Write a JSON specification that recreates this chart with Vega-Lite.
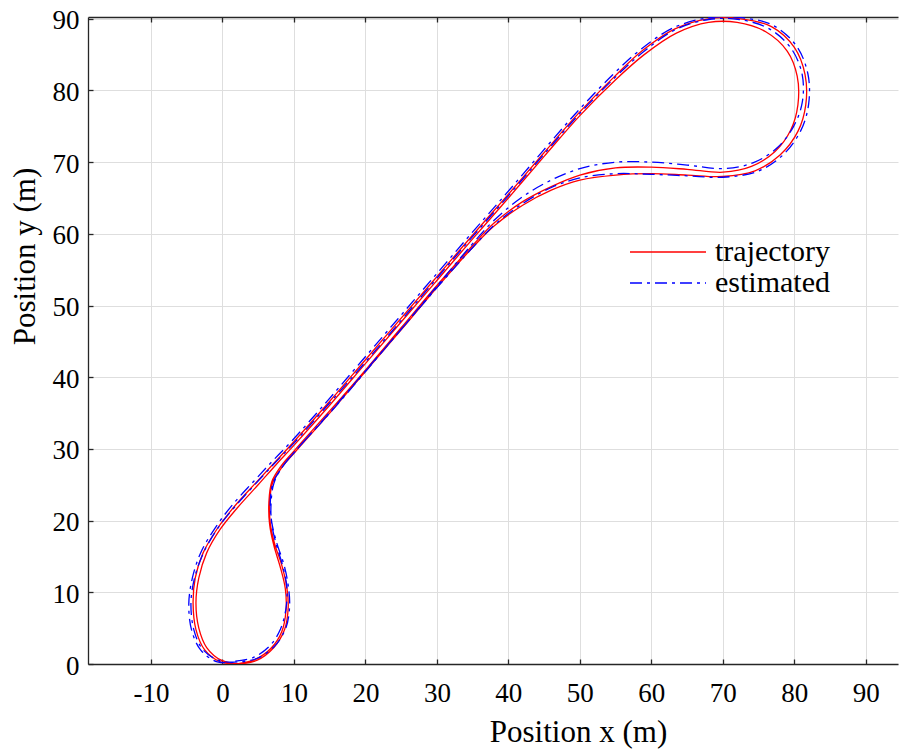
{
  "$schema": "https://vega.github.io/schema/vega-lite/v6.json",
  "width": 810,
  "height": 647,
  "autosize": "none",
  "padding": {"left": 88, "top": 17, "right": 1, "bottom": 85},
  "background": "white",
  "config": {
    "view": {"stroke": null},
    "font": "Liberation Serif"
  },
  "datasets": {
    "track": [
      {"series": "trajectory", "i": 0, "x": 2.0, "y": 0.0},
      {"series": "trajectory", "i": 1, "x": 4.5, "y": 0.6},
      {"series": "trajectory", "i": 2, "x": 6.8, "y": 2.2},
      {"series": "trajectory", "i": 3, "x": 8.3, "y": 4.5},
      {"series": "trajectory", "i": 4, "x": 8.9, "y": 7.5},
      {"series": "trajectory", "i": 5, "x": 8.8, "y": 10.5},
      {"series": "trajectory", "i": 6, "x": 8.1, "y": 13.5},
      {"series": "trajectory", "i": 7, "x": 7.2, "y": 16.5},
      {"series": "trajectory", "i": 8, "x": 6.6, "y": 19.5},
      {"series": "trajectory", "i": 9, "x": 6.5, "y": 22.5},
      {"series": "trajectory", "i": 10, "x": 6.9, "y": 25.4},
      {"series": "trajectory", "i": 11, "x": 8.2, "y": 27.6},
      {"series": "trajectory", "i": 12, "x": 10.0, "y": 29.7},
      {"series": "trajectory", "i": 13, "x": 15.0, "y": 35.3},
      {"series": "trajectory", "i": 14, "x": 20.0, "y": 41.0},
      {"series": "trajectory", "i": 15, "x": 25.0, "y": 46.9},
      {"series": "trajectory", "i": 16, "x": 30.0, "y": 52.8},
      {"series": "trajectory", "i": 17, "x": 35.0, "y": 58.4},
      {"series": "trajectory", "i": 18, "x": 38.0, "y": 61.5},
      {"series": "trajectory", "i": 19, "x": 42.0, "y": 64.5},
      {"series": "trajectory", "i": 20, "x": 46.0, "y": 66.6},
      {"series": "trajectory", "i": 21, "x": 50.0, "y": 68.2},
      {"series": "trajectory", "i": 22, "x": 55.0, "y": 69.2},
      {"series": "trajectory", "i": 23, "x": 60.0, "y": 69.3},
      {"series": "trajectory", "i": 24, "x": 65.0, "y": 69.0},
      {"series": "trajectory", "i": 25, "x": 70.0, "y": 68.6},
      {"series": "trajectory", "i": 26, "x": 74.0, "y": 69.4},
      {"series": "trajectory", "i": 27, "x": 77.3, "y": 71.5},
      {"series": "trajectory", "i": 28, "x": 79.5, "y": 74.5},
      {"series": "trajectory", "i": 29, "x": 80.5, "y": 78.0},
      {"series": "trajectory", "i": 30, "x": 80.4, "y": 82.0},
      {"series": "trajectory", "i": 31, "x": 79.0, "y": 85.5},
      {"series": "trajectory", "i": 32, "x": 76.0, "y": 88.2},
      {"series": "trajectory", "i": 33, "x": 72.0, "y": 89.5},
      {"series": "trajectory", "i": 34, "x": 68.0, "y": 89.5},
      {"series": "trajectory", "i": 35, "x": 63.5, "y": 88.0},
      {"series": "trajectory", "i": 36, "x": 59.0, "y": 85.0},
      {"series": "trajectory", "i": 37, "x": 55.0, "y": 81.5},
      {"series": "trajectory", "i": 38, "x": 50.0, "y": 76.5},
      {"series": "trajectory", "i": 39, "x": 45.0, "y": 70.8},
      {"series": "trajectory", "i": 40, "x": 40.0, "y": 65.0},
      {"series": "trajectory", "i": 41, "x": 35.0, "y": 59.3},
      {"series": "trajectory", "i": 42, "x": 30.0, "y": 53.5},
      {"series": "trajectory", "i": 43, "x": 25.0, "y": 47.7},
      {"series": "trajectory", "i": 44, "x": 20.0, "y": 41.9},
      {"series": "trajectory", "i": 45, "x": 15.0, "y": 36.1},
      {"series": "trajectory", "i": 46, "x": 10.0, "y": 30.5},
      {"series": "trajectory", "i": 47, "x": 7.5, "y": 27.8},
      {"series": "trajectory", "i": 48, "x": 5.0, "y": 25.0},
      {"series": "trajectory", "i": 49, "x": 2.1, "y": 21.8},
      {"series": "trajectory", "i": 50, "x": -0.3, "y": 18.8},
      {"series": "trajectory", "i": 51, "x": -2.2, "y": 15.5},
      {"series": "trajectory", "i": 52, "x": -3.3, "y": 12.0},
      {"series": "trajectory", "i": 53, "x": -3.7, "y": 8.5},
      {"series": "trajectory", "i": 54, "x": -3.3, "y": 5.0},
      {"series": "trajectory", "i": 55, "x": -2.2, "y": 2.3},
      {"series": "trajectory", "i": 56, "x": -0.1, "y": 0.5},
      {"series": "trajectory", "i": 57, "x": 2.3, "y": 0.05},
      {"series": "trajectory", "i": 58, "x": 4.8, "y": 0.5},
      {"series": "trajectory", "i": 59, "x": 7.2, "y": 2.3},
      {"series": "trajectory", "i": 60, "x": 8.7, "y": 4.8},
      {"series": "trajectory", "i": 61, "x": 9.2, "y": 7.8},
      {"series": "trajectory", "i": 62, "x": 9.0, "y": 10.8},
      {"series": "trajectory", "i": 63, "x": 8.3, "y": 13.8},
      {"series": "trajectory", "i": 64, "x": 7.3, "y": 16.8},
      {"series": "trajectory", "i": 65, "x": 6.7, "y": 19.6},
      {"series": "trajectory", "i": 66, "x": 6.6, "y": 22.4},
      {"series": "trajectory", "i": 67, "x": 7.0, "y": 25.2},
      {"series": "trajectory", "i": 68, "x": 8.3, "y": 27.4},
      {"series": "trajectory", "i": 69, "x": 10.2, "y": 29.6},
      {"series": "trajectory", "i": 70, "x": 15.1, "y": 35.1},
      {"series": "trajectory", "i": 71, "x": 20.0, "y": 40.8},
      {"series": "trajectory", "i": 72, "x": 25.0, "y": 46.6},
      {"series": "trajectory", "i": 73, "x": 30.0, "y": 52.5},
      {"series": "trajectory", "i": 74, "x": 35.0, "y": 58.1},
      {"series": "trajectory", "i": 75, "x": 38.0, "y": 61.1},
      {"series": "trajectory", "i": 76, "x": 42.0, "y": 64.0},
      {"series": "trajectory", "i": 77, "x": 46.0, "y": 66.1},
      {"series": "trajectory", "i": 78, "x": 50.0, "y": 67.5},
      {"series": "trajectory", "i": 79, "x": 55.0, "y": 68.2},
      {"series": "trajectory", "i": 80, "x": 60.0, "y": 68.4},
      {"series": "trajectory", "i": 81, "x": 65.0, "y": 68.2},
      {"series": "trajectory", "i": 82, "x": 70.0, "y": 68.0},
      {"series": "trajectory", "i": 83, "x": 74.5, "y": 68.8},
      {"series": "trajectory", "i": 84, "x": 78.0, "y": 71.0},
      {"series": "trajectory", "i": 85, "x": 80.5, "y": 74.3},
      {"series": "trajectory", "i": 86, "x": 81.6, "y": 78.0},
      {"series": "trajectory", "i": 87, "x": 81.5, "y": 82.2},
      {"series": "trajectory", "i": 88, "x": 80.0, "y": 86.0},
      {"series": "trajectory", "i": 89, "x": 76.8, "y": 88.9},
      {"series": "trajectory", "i": 90, "x": 72.5, "y": 90.0},
      {"series": "trajectory", "i": 91, "x": 68.0, "y": 90.0},
      {"series": "trajectory", "i": 92, "x": 63.3, "y": 88.6},
      {"series": "trajectory", "i": 93, "x": 58.8, "y": 85.6},
      {"series": "trajectory", "i": 94, "x": 54.8, "y": 81.9},
      {"series": "trajectory", "i": 95, "x": 49.8, "y": 76.8},
      {"series": "trajectory", "i": 96, "x": 44.8, "y": 71.1},
      {"series": "trajectory", "i": 97, "x": 39.8, "y": 65.3},
      {"series": "trajectory", "i": 98, "x": 34.8, "y": 59.6},
      {"series": "trajectory", "i": 99, "x": 29.8, "y": 53.8},
      {"series": "trajectory", "i": 100, "x": 24.8, "y": 48.0},
      {"series": "trajectory", "i": 101, "x": 19.8, "y": 42.2},
      {"series": "trajectory", "i": 102, "x": 14.8, "y": 36.4},
      {"series": "trajectory", "i": 103, "x": 9.8, "y": 30.8},
      {"series": "trajectory", "i": 104, "x": 7.3, "y": 28.1},
      {"series": "trajectory", "i": 105, "x": 4.7, "y": 25.3},
      {"series": "trajectory", "i": 106, "x": 1.7, "y": 22.0},
      {"series": "trajectory", "i": 107, "x": -0.7, "y": 18.9},
      {"series": "trajectory", "i": 108, "x": -2.7, "y": 15.5},
      {"series": "trajectory", "i": 109, "x": -3.8, "y": 12.0},
      {"series": "trajectory", "i": 110, "x": -4.1, "y": 8.4},
      {"series": "trajectory", "i": 111, "x": -3.7, "y": 4.8},
      {"series": "trajectory", "i": 112, "x": -2.5, "y": 2.0},
      {"series": "trajectory", "i": 113, "x": -0.3, "y": 0.3},
      {"series": "trajectory", "i": 114, "x": 2.3, "y": 0.05},

      {"series": "estimated", "i": 0, "x": 1.8, "y": 0.4},
      {"series": "estimated", "i": 1, "x": 4.3, "y": 0.9},
      {"series": "estimated", "i": 2, "x": 6.6, "y": 2.5},
      {"series": "estimated", "i": 3, "x": 8.1, "y": 4.8},
      {"series": "estimated", "i": 4, "x": 8.9, "y": 7.8},
      {"series": "estimated", "i": 5, "x": 9.0, "y": 10.8},
      {"series": "estimated", "i": 6, "x": 8.4, "y": 13.8},
      {"series": "estimated", "i": 7, "x": 7.5, "y": 16.8},
      {"series": "estimated", "i": 8, "x": 6.9, "y": 19.5},
      {"series": "estimated", "i": 9, "x": 6.8, "y": 22.3},
      {"series": "estimated", "i": 10, "x": 7.2, "y": 25.2},
      {"series": "estimated", "i": 11, "x": 8.4, "y": 27.5},
      {"series": "estimated", "i": 12, "x": 10.2, "y": 29.7},
      {"series": "estimated", "i": 13, "x": 15.2, "y": 35.2},
      {"series": "estimated", "i": 14, "x": 20.1, "y": 40.9},
      {"series": "estimated", "i": 15, "x": 25.1, "y": 46.8},
      {"series": "estimated", "i": 16, "x": 30.0, "y": 52.7},
      {"series": "estimated", "i": 17, "x": 34.8, "y": 58.4},
      {"series": "estimated", "i": 18, "x": 37.7, "y": 61.6},
      {"series": "estimated", "i": 19, "x": 41.6, "y": 64.9},
      {"series": "estimated", "i": 20, "x": 45.6, "y": 67.3},
      {"series": "estimated", "i": 21, "x": 50.0, "y": 69.1},
      {"series": "estimated", "i": 22, "x": 55.0, "y": 70.0},
      {"series": "estimated", "i": 23, "x": 60.0, "y": 70.0},
      {"series": "estimated", "i": 24, "x": 65.0, "y": 69.6},
      {"series": "estimated", "i": 25, "x": 70.0, "y": 69.1},
      {"series": "estimated", "i": 26, "x": 74.2, "y": 69.9},
      {"series": "estimated", "i": 27, "x": 77.6, "y": 72.0},
      {"series": "estimated", "i": 28, "x": 79.9, "y": 75.0},
      {"series": "estimated", "i": 29, "x": 81.1, "y": 78.3},
      {"series": "estimated", "i": 30, "x": 81.1, "y": 82.2},
      {"series": "estimated", "i": 31, "x": 79.6, "y": 85.8},
      {"series": "estimated", "i": 32, "x": 76.5, "y": 88.6},
      {"series": "estimated", "i": 33, "x": 72.3, "y": 89.9},
      {"series": "estimated", "i": 34, "x": 68.0, "y": 89.9},
      {"series": "estimated", "i": 35, "x": 63.4, "y": 88.5},
      {"series": "estimated", "i": 36, "x": 58.9, "y": 85.4},
      {"series": "estimated", "i": 37, "x": 54.9, "y": 81.8},
      {"series": "estimated", "i": 38, "x": 49.9, "y": 76.7},
      {"series": "estimated", "i": 39, "x": 44.9, "y": 71.0},
      {"series": "estimated", "i": 40, "x": 39.9, "y": 65.2},
      {"series": "estimated", "i": 41, "x": 34.9, "y": 59.5},
      {"series": "estimated", "i": 42, "x": 29.9, "y": 53.7},
      {"series": "estimated", "i": 43, "x": 24.9, "y": 47.8},
      {"series": "estimated", "i": 44, "x": 19.9, "y": 42.0},
      {"series": "estimated", "i": 45, "x": 14.9, "y": 36.3},
      {"series": "estimated", "i": 46, "x": 9.9, "y": 30.7},
      {"series": "estimated", "i": 47, "x": 7.3, "y": 28.0},
      {"series": "estimated", "i": 48, "x": 4.7, "y": 25.2},
      {"series": "estimated", "i": 49, "x": 1.8, "y": 22.0},
      {"series": "estimated", "i": 50, "x": -0.6, "y": 19.0},
      {"series": "estimated", "i": 51, "x": -2.6, "y": 15.6},
      {"series": "estimated", "i": 52, "x": -3.9, "y": 12.0},
      {"series": "estimated", "i": 53, "x": -4.4, "y": 8.5},
      {"series": "estimated", "i": 54, "x": -4.0, "y": 4.8},
      {"series": "estimated", "i": 55, "x": -2.8, "y": 2.1},
      {"series": "estimated", "i": 56, "x": -0.5, "y": 0.5},
      {"series": "estimated", "i": 57, "x": 2.2, "y": 0.3},
      {"series": "estimated", "i": 58, "x": 4.9, "y": 0.8},
      {"series": "estimated", "i": 59, "x": 7.4, "y": 2.6},
      {"series": "estimated", "i": 60, "x": 8.9, "y": 5.1},
      {"series": "estimated", "i": 61, "x": 9.4, "y": 8.1},
      {"series": "estimated", "i": 62, "x": 9.2, "y": 11.0},
      {"series": "estimated", "i": 63, "x": 8.6, "y": 13.9},
      {"series": "estimated", "i": 64, "x": 7.6, "y": 16.9},
      {"series": "estimated", "i": 65, "x": 6.9, "y": 19.8},
      {"series": "estimated", "i": 66, "x": 6.7, "y": 22.6},
      {"series": "estimated", "i": 67, "x": 7.1, "y": 25.3},
      {"series": "estimated", "i": 68, "x": 8.4, "y": 27.5},
      {"series": "estimated", "i": 69, "x": 10.3, "y": 29.8},
      {"series": "estimated", "i": 70, "x": 15.2, "y": 35.3},
      {"series": "estimated", "i": 71, "x": 20.1, "y": 41.0},
      {"series": "estimated", "i": 72, "x": 25.1, "y": 46.8},
      {"series": "estimated", "i": 73, "x": 30.1, "y": 52.6},
      {"series": "estimated", "i": 74, "x": 35.1, "y": 58.2},
      {"series": "estimated", "i": 75, "x": 38.1, "y": 61.3},
      {"series": "estimated", "i": 76, "x": 42.1, "y": 64.3},
      {"series": "estimated", "i": 77, "x": 46.1, "y": 66.5},
      {"series": "estimated", "i": 78, "x": 50.0, "y": 67.8},
      {"series": "estimated", "i": 79, "x": 55.0, "y": 68.4},
      {"series": "estimated", "i": 80, "x": 60.0, "y": 68.3},
      {"series": "estimated", "i": 81, "x": 65.0, "y": 68.1},
      {"series": "estimated", "i": 82, "x": 70.0, "y": 67.9},
      {"series": "estimated", "i": 83, "x": 74.8, "y": 68.7},
      {"series": "estimated", "i": 84, "x": 78.4, "y": 71.0},
      {"series": "estimated", "i": 85, "x": 80.9, "y": 74.4},
      {"series": "estimated", "i": 86, "x": 82.0, "y": 78.1},
      {"series": "estimated", "i": 87, "x": 81.9, "y": 82.3},
      {"series": "estimated", "i": 88, "x": 80.3, "y": 86.2},
      {"series": "estimated", "i": 89, "x": 77.0, "y": 89.1},
      {"series": "estimated", "i": 90, "x": 72.6, "y": 90.15},
      {"series": "estimated", "i": 91, "x": 68.0, "y": 90.15},
      {"series": "estimated", "i": 92, "x": 63.2, "y": 88.8},
      {"series": "estimated", "i": 93, "x": 58.6, "y": 85.8},
      {"series": "estimated", "i": 94, "x": 54.6, "y": 82.2},
      {"series": "estimated", "i": 95, "x": 49.6, "y": 77.0},
      {"series": "estimated", "i": 96, "x": 44.6, "y": 71.3},
      {"series": "estimated", "i": 97, "x": 39.6, "y": 65.5},
      {"series": "estimated", "i": 98, "x": 34.6, "y": 59.8},
      {"series": "estimated", "i": 99, "x": 29.6, "y": 54.0},
      {"series": "estimated", "i": 100, "x": 24.6, "y": 48.2},
      {"series": "estimated", "i": 101, "x": 19.6, "y": 42.4},
      {"series": "estimated", "i": 102, "x": 14.6, "y": 36.6},
      {"series": "estimated", "i": 103, "x": 9.6, "y": 31.0},
      {"series": "estimated", "i": 104, "x": 7.0, "y": 28.3},
      {"series": "estimated", "i": 105, "x": 4.4, "y": 25.5},
      {"series": "estimated", "i": 106, "x": 1.4, "y": 22.2},
      {"series": "estimated", "i": 107, "x": -1.0, "y": 19.0},
      {"series": "estimated", "i": 108, "x": -3.0, "y": 15.6},
      {"series": "estimated", "i": 109, "x": -4.2, "y": 12.0},
      {"series": "estimated", "i": 110, "x": -4.7, "y": 8.4},
      {"series": "estimated", "i": 111, "x": -4.3, "y": 4.7},
      {"series": "estimated", "i": 112, "x": -3.0, "y": 1.9},
      {"series": "estimated", "i": 113, "x": -0.7, "y": 0.3},
      {"series": "estimated", "i": 114, "x": 2.2, "y": 0.3}
    ]
  },
  "data": {"name": "track"},
  "resolve": {"axis": {"x": "independent", "y": "independent"}},
  "layer": [
    {
      "transform": [{"filter": "datum.series === 'trajectory'"}],
      "mark": {"type": "line", "interpolate": "catmull-rom", "strokeWidth": 1.3, "clip": true},
      "encoding": {
        "x": {
          "field": "x", "type": "quantitative",
          "scale": {"domain": [-18.8, 94.5], "nice": false, "zero": false},
          "axis": {
            "orient": "bottom",
            "values": [-10, 0, 10, 20, 30, 40, 50, 60, 70, 80, 90],
            "labelExpr": "'' + datum.value",
            "title": "Position x (m)",
            "titleFont": "Liberation Serif", "titleFontSize": 31, "titleFontWeight": "normal", "titleColor": "#000000",
            "titleX": 490, "titleY": 77, "titleAlign": "center", "titleBaseline": "alphabetic",
            "labelFont": "Liberation Serif", "labelFontSize": 27, "labelColor": "#000000",
            "labelBaseline": "alphabetic", "labelPadding": 37, "labelOverlap": false, "labelFlush": false,
            "ticks": false,
            "domainColor": "#262626", "domainWidth": 1.3,
            "grid": true, "gridColor": "#dedede", "gridWidth": 1
          }
        },
        "y": {
          "field": "y", "type": "quantitative",
          "scale": {"domain": [0, 90.25], "nice": false, "zero": false},
          "axis": {
            "orient": "left",
            "values": [0, 10, 20, 30, 40, 50, 60, 70, 80, 90],
            "title": "Position y (m)",
            "titleFont": "Liberation Serif", "titleFontSize": 31, "titleFontWeight": "normal", "titleColor": "#000000",
            "titleX": -63, "titleY": 239, "titleAngle": -90, "titleAlign": "center", "titleBaseline": "middle",
            "labelFont": "Liberation Serif", "labelFontSize": 27, "labelColor": "#000000",
            "labelAlign": "right", "labelBaseline": "alphabetic", "labelOffset": 10,
            "labelPadding": 9, "labelOverlap": false, "labelFlush": false,
            "ticks": false,
            "domainColor": "#262626", "domainWidth": 1.3,
            "grid": true, "gridColor": "#dedede", "gridWidth": 1
          }
        },
        "order": {"field": "i", "type": "quantitative"},
        "color": {
          "field": "series", "type": "nominal",
          "scale": {"domain": ["trajectory"], "range": ["#ff0000"]},
          "legend": {
            "title": null, "orient": "none", "legendX": 541, "legendY": 196,
            "symbolType": "stroke", "symbolSize": 5776, "symbolStrokeWidth": 1.3,
            "labelFont": "Liberation Serif", "labelFontSize": 30, "labelColor": "#000000",
            "labelOffset": 8, "padding": 0
          }
        }
      }
    },
    {
      "transform": [{"filter": "datum.series === 'estimated'"}],
      "mark": {"type": "line", "interpolate": "catmull-rom", "strokeWidth": 1.3, "strokeDash": [12, 5, 3, 5], "clip": true},
      "encoding": {
        "x": {"field": "x", "type": "quantitative", "axis": null},
        "y": {"field": "y", "type": "quantitative", "axis": null},
        "order": {"field": "i", "type": "quantitative"},
        "stroke": {
          "field": "series", "type": "nominal",
          "scale": {"domain": ["estimated"], "range": ["#0000ff"]},
          "legend": {
            "title": null, "orient": "none", "legendX": 541, "legendY": 227,
            "symbolType": "stroke", "symbolSize": 5776, "symbolStrokeWidth": 1.3,
            "symbolDash": [12, 5, 3, 5],
            "labelFont": "Liberation Serif", "labelFontSize": 30, "labelColor": "#000000",
            "labelOffset": 8, "padding": 0
          }
        }
      }
    },
    {
      "mark": {"type": "point", "opacity": 0, "clip": true},
      "encoding": {
        "x": {
          "field": "x", "type": "quantitative",
          "axis": {
            "orient": "top", "offset": -647, "title": null, "labels": false, "grid": false, "domain": false,
            "values": [-10, 0, 10, 20, 30, 40, 50, 60, 70, 80, 90],
            "ticks": true, "tickSize": 5, "tickColor": "#262626", "tickWidth": 1.3
          }
        },
        "y": {
          "field": "y", "type": "quantitative",
          "axis": {
            "orient": "right", "offset": -810, "title": null, "labels": false, "grid": false, "domain": false,
            "values": [0, 10, 20, 30, 40, 50, 60, 70, 80, 90],
            "ticks": true, "tickSize": 5, "tickColor": "#262626", "tickWidth": 1.3
          }
        }
      }
    },
    {
      "mark": {"type": "point", "opacity": 0, "clip": true},
      "encoding": {
        "x": {
          "field": "x", "type": "quantitative",
          "axis": {
            "orient": "bottom", "offset": -647, "title": null, "labels": false, "grid": false, "domain": true,
            "values": [-10, 0, 10, 20, 30, 40, 50, 60, 70, 80, 90],
            "ticks": true, "tickSize": 5, "tickColor": "#262626", "tickWidth": 1.3,
            "domainColor": "#262626", "domainWidth": 1.3
          }
        },
        "y": {"field": "y", "type": "quantitative", "axis": null}
      }
    }
  ]
}
